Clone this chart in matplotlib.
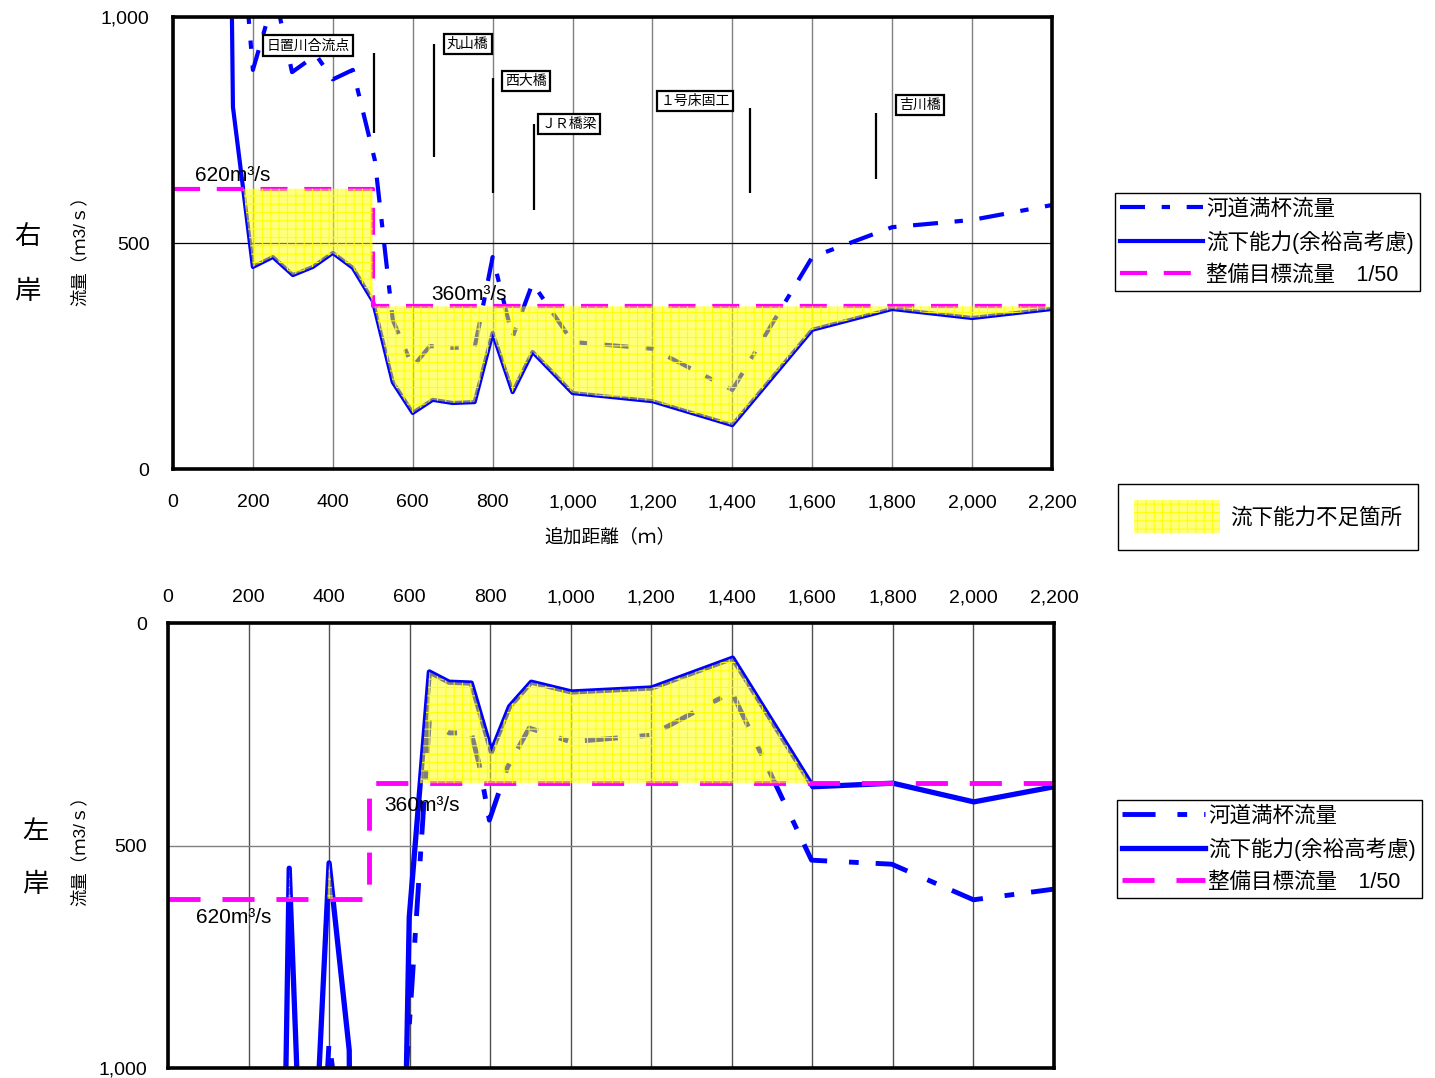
import numpy as np
import matplotlib
matplotlib.use("Agg")
import matplotlib.pyplot as plt
from matplotlib.ticker import FuncFormatter

plt.rcParams["font.family"] = ["Liberation Sans", "Noto Sans CJK JP"]
plt.rcParams["hatch.linewidth"] = 0.8

# -------- data: 右岸 (right bank) --------
top_cap_x = [175, 200, 255, 298, 358, 400, 450, 505, 550, 600, 643, 700, 755, 768, 800,
             850, 900, 1000, 1200, 1400, 1600, 1800, 2000, 2200]
top_cap_y = [1150, 883, 1050, 878, 916, 862, 883, 684, 330, 226, 272, 268, 270, 325, 469,
             292, 411, 281, 266, 175, 469, 535, 551, 584]

top_flow_x = [145, 150, 200, 250, 300, 350, 400, 450, 500, 550, 600, 650, 700, 755, 800,
              850, 900, 1000, 1200, 1400, 1600, 1800, 2000, 2200]
top_flow_y = [1200, 801, 447, 469, 429, 447, 478, 445, 372, 192, 124, 153, 146, 148, 301,
              170, 259, 168, 150, 97, 308, 354, 334, 354]

target_x = [0, 500, 500, 2200]
target_y = [620, 620, 360, 360]

# -------- data: 左岸 (left bank) --------
bot_cap_x = [390, 400, 420, 590, 649, 698, 753, 773, 798, 843, 897, 1000, 1200, 1400,
             1598, 1797, 2000, 2200]
bot_cap_y = [1100, 940, 1080, 1030, 218, 247, 247, 319, 443, 324, 236, 267, 252, 155,
             533, 542, 622, 598]

bot_flow_x = [291, 301, 324, 370, 400, 450, 451, 590, 599, 649, 698, 753, 803, 848, 902,
              1002, 1201, 1402, 1601, 1800, 2001, 2200]
bot_flow_y = [1100, 551, 1100, 1100, 539, 960, 1100, 1100, 661, 110, 133, 135, 290, 188,
              133, 155, 146, 79, 368, 360, 402, 368]

# structure labels: (name, line x, line y0, line y1, label x, label y)
structures = [
    ("日置川合流点", 503, 743, 920, 338, 937),
    ("丸山橋", 653, 690, 940, 738, 940),
    ("西大橋", 800, 611, 864, 884, 858),
    ("ＪＲ橋梁", 904, 573, 763, 991, 763),
    ("１号床固工", 1444, 611, 799, 1307, 814),
    ("吉川橋", 1760, 642, 788, 1870, 805),
]

X_TICKS = list(range(0, 2201, 200))
BLUE = "#0000FF"
MAGENTA = "#FF00FF"
LEG_FS = 15.5


def comma(v, pos=None):
    return f"{v:,.0f}"


def shortage_fill(ax, fx, fy, tx, ty):
    grid = np.arange(0, 2200.5, 0.5)
    f = np.interp(grid, fx, fy)
    t = np.interp(grid, tx, ty)
    return ax.fill_between(grid, f, t, where=f < t, interpolate=True,
                           facecolor=(1, 1, 0, 0.5), edgecolor=(1, 1, 0, 0.9),
                           linewidth=0, hatch="++", zorder=4)


def style_axes(ax, gridcolor):
    ax.set_xlim(0, 2200)
    ax.set_xticks(X_TICKS)
    ax.set_yticks([0, 500, 1000])
    ax.xaxis.set_major_formatter(FuncFormatter(comma))
    ax.yaxis.set_major_formatter(FuncFormatter(comma))
    ax.tick_params(length=0, labelsize=14)
    ax.xaxis.grid(True, color=gridcolor, lw=1)
    ax.set_axisbelow(True)
    for s in ax.spines.values():
        s.set_linewidth(2.6)
        s.set_zorder(6)


fig = plt.figure(figsize=(14.35, 10.78), dpi=100)

# ================= top: 右岸 =================
ax1 = fig.add_axes([173 / 1435, 1 - 469 / 1078, 879 / 1435, 452 / 1078])
style_axes(ax1, "#808080")
ax1.yaxis.grid(True, color="black", lw=0.9)
ax1.set_ylim(0, 1000)
ax1.tick_params(axis="x", pad=18)
ax1.tick_params(axis="y", pad=17)

cap1, = ax1.plot(top_cap_x, top_cap_y, color=BLUE, lw=3, ls=(0, (6, 4, 2, 4)), zorder=2)
flow1, = ax1.plot(top_flow_x, top_flow_y, color=BLUE, lw=3, zorder=3)
tgt1, = ax1.plot(target_x, target_y, color=MAGENTA, lw=3, ls=(0, (6.5, 4)), zorder=3)
fill1 = shortage_fill(ax1, top_flow_x, top_flow_y, target_x, target_y)

for name, lx, y0, y1, tx, ty in structures:
    ax1.vlines(lx, y0, y1, color="black", lw=1.6, zorder=5)
    ax1.text(tx, ty, name, fontsize=10, ha="center", va="center", zorder=7,
             family=["Noto Sans CJK JP"],
             bbox=dict(boxstyle="square,pad=0.22", fc="white", ec="black", lw=1.6))

ax1.text(55, 650, "620m³/s", fontsize=15, ha="left", va="center", zorder=7)
ax1.text(646, 385, "360m³/s", fontsize=15, ha="left", va="center", zorder=7)

# ================= bottom: 左岸 =================
ax2 = fig.add_axes([168 / 1435, 1 - 1068 / 1078, 886 / 1435, 445 / 1078])
style_axes(ax2, "#505050")
ax2.yaxis.grid(True, color="#808080", lw=1)
ax2.set_ylim(1000, 0)
ax2.xaxis.tick_top()
ax2.tick_params(axis="x", pad=12)
ax2.tick_params(axis="y", pad=15)

cap2, = ax2.plot(bot_cap_x, bot_cap_y, color=BLUE, lw=3.5, ls=(0, (6.8, 4.5, 2, 3.5)), zorder=2)
flow2, = ax2.plot(bot_flow_x, bot_flow_y, color=BLUE, lw=3.8, zorder=3)
tgt2, = ax2.plot(target_x, target_y, color=MAGENTA, lw=3.5, ls=(0, (6.6, 4.5)), zorder=3)
shortage_fill(ax2, bot_flow_x, bot_flow_y, target_x, target_y)

ax2.text(537, 411, "360m³/s", fontsize=15, ha="left", va="center", zorder=7)
ax2.text(70, 661, "620m³/s", fontsize=15, ha="left", va="center", zorder=7)

# ================= labels =================
fig.text(610 / 1435, 1 - 537 / 1078, "追加距離（ｍ）", fontsize=13.5, ha="center", va="center")
for yc in (247, 847):
    fig.text(79 / 1435, 1 - yc / 1078, "流量（ｍ3/ｓ）", fontsize=12.5, rotation=90,
             ha="center", va="center")
for ch, x, y in [("右", 27, 237), ("岸", 27, 292), ("左", 35, 832), ("岸", 35, 885)]:
    fig.text(x / 1435, 1 - y / 1078, ch, fontsize=19, ha="center", va="center")

# ================= legends =================
labels = ["河道満杯流量", "流下能力(余裕高考慮)", "整備目標流量　1/50"]
leg_kw = dict(loc="upper left", bbox_transform=fig.transFigure, borderaxespad=0,
              fontsize=LEG_FS, fancybox=False, framealpha=1, edgecolor="black",
              handlelength=3.85, handletextpad=0.15, labelspacing=0.5, borderpad=0.25)
leg1 = fig.legend([cap1, flow1, tgt1], labels, bbox_to_anchor=(1115 / 1435, 1 - 193 / 1078), **leg_kw)
leg3 = fig.legend([cap2, flow2, tgt2], labels, bbox_to_anchor=(1117 / 1435, 1 - 800 / 1078), **leg_kw)
leg2 = fig.legend([fill1], ["流下能力不足箇所"], loc="upper left",
                  bbox_to_anchor=(1118 / 1435, 1 - 484 / 1078), bbox_transform=fig.transFigure,
                  borderaxespad=0, fontsize=LEG_FS, fancybox=False, framealpha=1,
                  edgecolor="black", handlelength=4.0, handleheight=2.0,
                  handletextpad=0.45, borderpad=0.75)
for lg in (leg1, leg2, leg3):
    lg.get_frame().set_linewidth(1.0)

fig.savefig("out.png", dpi=100)
